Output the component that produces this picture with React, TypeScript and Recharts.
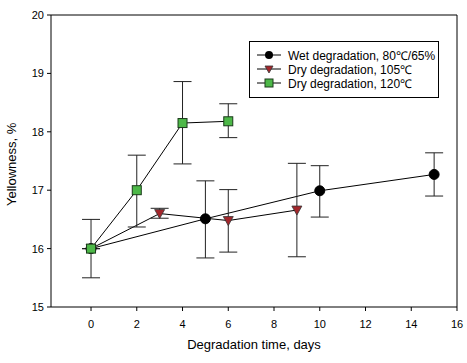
import { LineChart, Line, XAxis, YAxis, ErrorBar, ReferenceLine } from "recharts";

const xTicks = [0, 2, 4, 6, 8, 10, 12, 14, 16];
const yTicks = [15, 16, 17, 18, 19, 20];

const wetDays = [0, 5, 10, 15];
const wetMean = [16.0, 16.51, 16.99, 17.27];
const wetLow = [16.0, 15.84, 16.54, 16.9];
const wetHigh = [16.0, 17.16, 17.42, 17.64];

const dry105Days = [0, 3, 6, 9];
const dry105Mean = [16.0, 16.6, 16.48, 16.66];
const dry105Low = [16.0, 16.52, 15.94, 15.86];
const dry105High = [16.0, 16.69, 17.01, 17.46];

const dry120Days = [0, 2, 4, 6];
const dry120Mean = [16.0, 17.0, 18.15, 18.18];
const dry120Low = [15.5, 16.37, 17.45, 17.9];
const dry120High = [16.5, 17.6, 18.86, 18.48];

const build = (days: number[], mean: number[], low: number[], high: number[]) =>
  days.map((d, i) => ({ day: d, y: mean[i], err: [mean[i] - low[i], high[i] - mean[i]] }));

const wetData = build(wetDays, wetMean, wetLow, wetHigh);
const dry105Data = build(dry105Days, dry105Mean, dry105Low, dry105High);
const dry120Data = build(dry120Days, dry120Mean, dry120Low, dry120High);

const RED = "#a3262b";
const GREEN = "#4db848";
const FONT = "'Liberation Sans', Arial, sans-serif";

const Circle = (p: any) => <circle key={p.index} cx={p.cx} cy={p.cy} r={5} fill="#000" stroke="#000" />;
const Tri = (p: any) => (
  <path
    key={p.index}
    d={`M${p.cx - 5},${p.cy - 4} L${p.cx + 5},${p.cy - 4} L${p.cx},${p.cy + 5} Z`}
    fill={RED}
    stroke="#333"
    strokeWidth={0.8}
  />
);
const Sq = (p: any) => (
  <rect key={p.index} x={p.cx - 4.5} y={p.cy - 4.5} width={9} height={9} fill={GREEN} stroke="#1a3a1a" strokeWidth={1} />
);

const legendItems = [
  { name: "Wet degradation, 80\u2103/65%", mark: "c" },
  { name: "Dry degradation, 105\u2103", mark: "t" },
  { name: "Dry degradation, 120\u2103", mark: "s" },
];

function LegendBox() {
  return (
    <div
      style={{
        position: "absolute",
        left: 249,
        top: 41,
        border: "1px solid #000",
        width: 190,
        height: 57,
        background: "#fff",
        boxSizing: "border-box",
        padding: "6px 0 0 0",
      }}
    >
      {legendItems.map((it) => (
        <div key={it.name} style={{ display: "flex", alignItems: "center", height: 14, fontFamily: FONT, fontSize: 12, color: "#000" }}>
          <svg width={36} height={14}>
            <line x1={7} x2={31} y1={7} y2={7} stroke="#000" />
            {it.mark === "c" && <circle cx={19} cy={7} r={4} fill="#000" />}
            {it.mark === "t" && <path d="M15,4 L23,4 L19,11 Z" fill={RED} stroke="#333" strokeWidth={0.8} />}
            {it.mark === "s" && <rect x={15} y={3} width={8} height={8} fill={GREEN} stroke="#1a3a1a" />}
          </svg>
          <span style={{ marginLeft: 2 }}>{it.name}</span>
        </div>
      ))}
    </div>
  );
}

export default function App() {
  return (
    <div style={{ position: "absolute", left: 0, top: 0, width: 467, height: 363, background: "#fff" }}>
      <LineChart width={467} height={363} margin={{ top: 15, right: 10, left: 11, bottom: 26 }}>
        <XAxis
          type="number"
          dataKey="day"
          domain={[-1.75, 16]}
          ticks={xTicks}
          allowDataOverflow
          tickSize={4}
          tickMargin={9}
          height={30}
          stroke="#000"
          tick={{ fill: "#000", fontSize: 11, fontFamily: FONT }}
          label={{ value: "Degradation time, days", position: "insideBottom", offset: -12, fill: "#000", fontSize: 13, fontFamily: FONT }}
        />
        <YAxis
          type="number"
          domain={[15, 20]}
          ticks={yTicks}
          tickSize={4}
          tickMargin={3}
          width={40}
          stroke="#000"
          tick={{ fill: "#000", fontSize: 11, fontFamily: FONT }}
          label={{ value: "Yellowness, %", angle: -90, position: "insideLeft", offset: 0, dy: 45, fill: "#000", fontSize: 13, fontFamily: FONT }}
        />
        <ReferenceLine y={20} stroke="#000" />
        <ReferenceLine x={16} stroke="#000" />
        <Line data={wetData} dataKey="y" stroke="#000" strokeWidth={1} dot={Circle} isAnimationActive={false} name="wet">
          <ErrorBar dataKey="err" width={9} stroke="#222" strokeWidth={1} direction="y" />
        </Line>
        <Line data={dry105Data} dataKey="y" stroke="#000" strokeWidth={1} dot={Tri} isAnimationActive={false} name="dry105">
          <ErrorBar dataKey="err" width={9} stroke="#222" strokeWidth={1} direction="y" />
        </Line>
        <Line data={dry120Data} dataKey="y" stroke="#000" strokeWidth={1} dot={Sq} isAnimationActive={false} name="dry120">
          <ErrorBar dataKey="err" width={9} stroke="#222" strokeWidth={1} direction="y" />
        </Line>
      </LineChart>
      <LegendBox />
    </div>
  );
}
